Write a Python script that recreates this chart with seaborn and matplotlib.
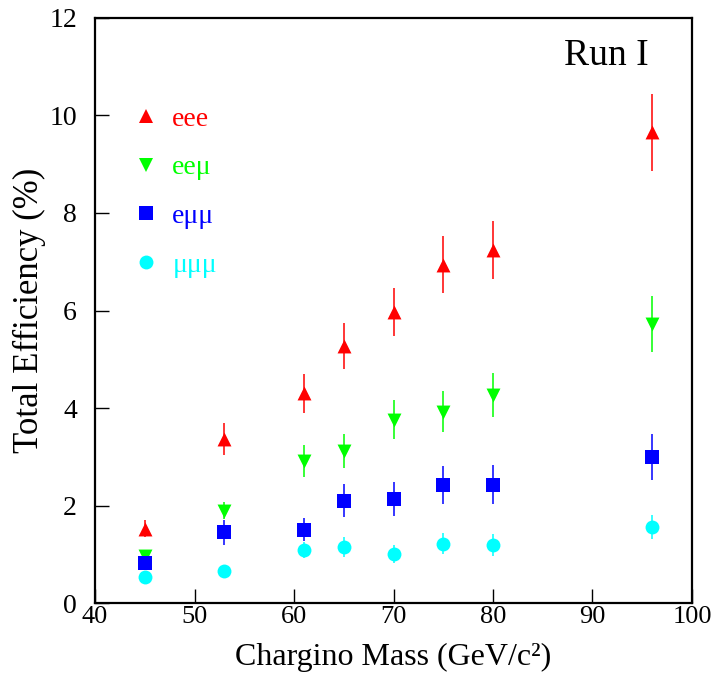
import numpy as np
import pandas as pd
import matplotlib
matplotlib.use("Agg")
import matplotlib.pyplot as plt
from matplotlib.lines import Line2D
import seaborn as sns

# ---- data ----
mass = [45, 53, 61, 65, 70, 75, 80, 96]
eee = [1.53, 3.36, 4.30, 5.28, 5.97, 6.94, 7.24, 9.65]
eee_err = [0.18, 0.33, 0.40, 0.47, 0.50, 0.58, 0.60, 0.78]
eemu = [0.97, 1.90, 2.91, 3.12, 3.76, 3.93, 4.27, 5.72]
eemu_err = [0.12, 0.18, 0.33, 0.34, 0.40, 0.42, 0.45, 0.57]
emumu = [0.83, 1.45, 1.51, 2.10, 2.14, 2.43, 2.43, 2.99]
emumu_err = [0.10, 0.25, 0.24, 0.34, 0.35, 0.39, 0.40, 0.47]
mumumu = [0.54, 0.67, 1.09, 1.15, 1.01, 1.22, 1.19, 1.56]
mumumu_err = [0.08, 0.05, 0.17, 0.20, 0.19, 0.21, 0.22, 0.25]
channels = ["eee", "ee\u03bc", "e\u03bc\u03bc", "\u03bc\u03bc\u03bc"]
x_ticks = [40, 50, 60, 70, 80, 90, 100]
y_ticks = [0, 2, 4, 6, 8, 10, 12]

series = [eee, eemu, emumu, mumumu]
errors = [eee_err, eemu_err, emumu_err, mumumu_err]
colors = ["#ff0000", "#00ff00", "#0000ff", "#00ffff"]
markers = ["^", "v", "s", "o"]
msizes = [10, 10, 10, 10]

sns.set_theme(style="ticks")
plt.rcParams["font.family"] = ["Liberation Serif", "DejaVu Serif"]

fig = plt.figure(figsize=(7.15, 6.74), dpi=100)
ax = fig.add_axes([0.1329, 0.105, 0.8349, 0.8685])

frames = []
for name, vals, errs in zip(channels, series, errors):
    frames.append(pd.DataFrame({"mass": mass, "eff": vals, "err": errs, "channel": name}))
df = pd.concat(frames, ignore_index=True)

handles = []
for name, col, mk, ms in zip(channels, colors, markers, msizes):
    sub = df[df["channel"] == name]
    ax.errorbar(sub["mass"], sub["eff"], yerr=sub["err"], fmt="none",
                ecolor=col, elinewidth=1.1, capsize=0, zorder=2)
    sns.scatterplot(data=sub, x="mass", y="eff", marker=mk, color=col,
                    s=ms ** 2, linewidth=0, ax=ax, zorder=3, legend=False)
    handles.append(Line2D([], [], linestyle="none", marker=mk, color=col,
                          markersize=ms, markeredgewidth=0))

leg = ax.legend(handles, channels, loc="upper left",
                bbox_to_anchor=(0.062, 0.849), frameon=False,
                fontsize=20, labelspacing=0.835, handletextpad=0.45,
                handlelength=1.0, borderpad=0, borderaxespad=0)
for t, col in zip(leg.get_texts(), colors):
    t.set_color(col)

ax.text(0.856, 0.936, "Run I", transform=ax.transAxes, ha="center",
        va="center", fontsize=27, color="black")

ax.set_xlim(40, 100)
ax.set_ylim(0, 12)
ax.set_xticks(x_ticks)
ax.set_yticks(y_ticks)
ax.set_xticklabels([str(v) for v in x_ticks])
ax.set_yticklabels([str(v) for v in y_ticks])
ax.tick_params(axis="both", direction="in", length=10, width=1.0,
               labelsize=20, colors="black", top=False, right=False)
ax.tick_params(axis="y", pad=13)
ax.tick_params(axis="x", labelsize=19, pad=2)
for sp in ax.spines.values():
    sp.set_visible(True)
    sp.set_linewidth(1.6)
    sp.set_color("black")

ax.set_xlabel("Chargino Mass (GeV/c\u00b2)", fontsize=23, color="black")
ax.xaxis.label.set_va("bottom")
ax.xaxis.set_label_coords(0.5, -0.1175)
ax.set_ylabel("Total Efficiency (%)", fontsize=25, labelpad=2, color="black")
ax.set_facecolor("white")
fig.patch.set_facecolor("white")

fig.savefig("out.png", dpi=100, facecolor="white")
